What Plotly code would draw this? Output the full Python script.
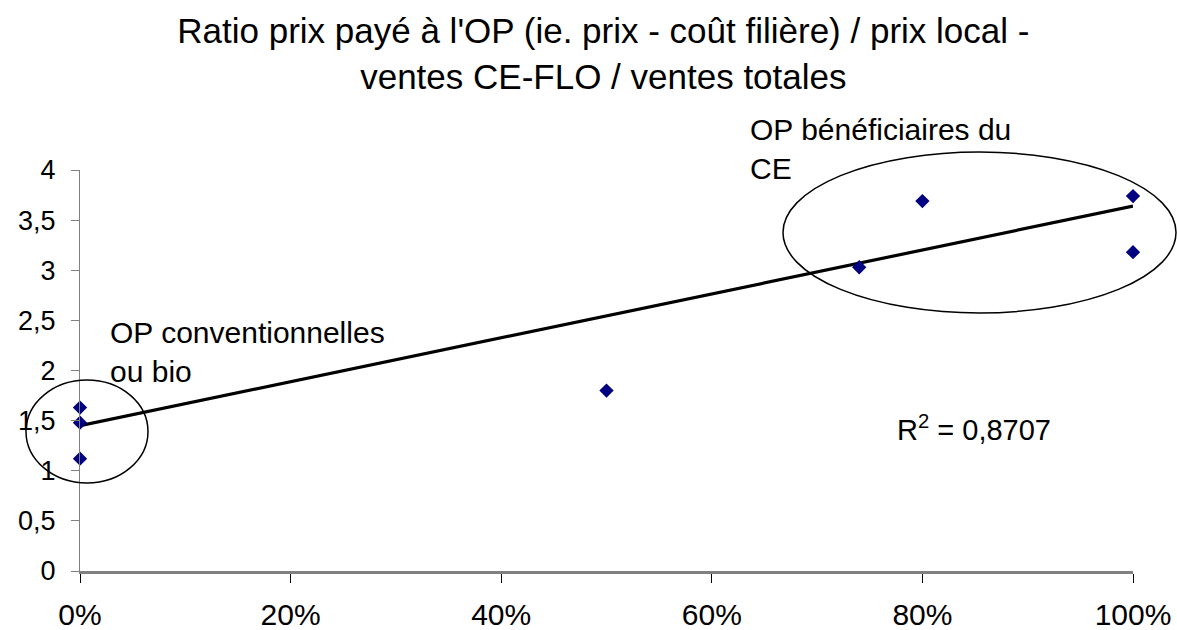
import plotly.graph_objects as go

# Data
share_ce = [0.0, 0.0, 0.0, 0.50, 0.74, 0.80, 1.0, 1.0]
price_ratio = [1.63, 1.48, 1.12, 1.80, 3.03, 3.69, 3.74, 3.18]
trend_x = [0.0, 1.0]
trend_y = [1.45, 3.64]

x_ticks = [0, 0.2, 0.4, 0.6, 0.8, 1.0]
y_ticks = [0, 0.5, 1, 1.5, 2, 2.5, 3, 3.5, 4]

FONT = "Liberation Sans, Arial, sans-serif"
W, H = 1177, 630
L, R, T, B = 80, 44, 170, 59
PW, PH = W - L - R, H - T - B


def px_x(px):
    return (px - L) / PW


def px_y(py):
    return (H - B - py) / PH


fig = go.Figure()
fig.add_trace(go.Scatter(
    x=trend_x, y=trend_y, mode="lines",
    line=dict(color="black", width=3.2), showlegend=False, hoverinfo="skip",
    cliponaxis=False,
))
fig.add_trace(go.Scatter(
    x=share_ce, y=price_ratio, mode="markers",
    marker=dict(symbol="diamond", size=11, color="#000080"),
    showlegend=False, cliponaxis=False,
))

# Ellipses
fig.add_shape(type="circle", xref="paper", yref="paper",
              x0=px_x(26), x1=px_x(148), y0=px_y(483), y1=px_y(380),
              line=dict(color="black", width=1.5))
fig.add_shape(type="circle", xref="paper", yref="paper",
              x0=px_x(783), x1=px_x(1176), y0=px_y(313), y1=px_y(152),
              line=dict(color="black", width=1.5))

fig.add_annotation(xref="paper", yref="paper", x=px_x(108), y=px_y(352),
                   text="OP conventionnelles<br>ou bio", showarrow=False,
                   xanchor="left", yanchor="middle", align="left",
                   font=dict(family=FONT, size=30, color="black"))
fig.add_annotation(xref="paper", yref="paper", x=px_x(748), y=px_y(149),
                   text="OP bénéficiaires du<br>CE", showarrow=False,
                   xanchor="left", yanchor="middle", align="left",
                   font=dict(family=FONT, size=30, color="black"))
fig.add_annotation(xref="paper", yref="paper", x=px_x(895), y=px_y(428),
                   text="R<sup>2</sup> = 0,8707", showarrow=False,
                   xanchor="left", yanchor="middle", align="left",
                   font=dict(family=FONT, size=29, color="black"))

fig.update_layout(
    width=W, height=H,
    margin=dict(l=L, r=R, t=T, b=B, autoexpand=False),
    paper_bgcolor="white", plot_bgcolor="white",
    separators=", ",
    font=dict(family=FONT, size=27, color="black"),
    title=dict(
        text="Ratio prix payé à l'OP (ie. prix - coût filière) / prix local -<br>ventes CE-FLO / ventes totales",
        x=0.497, xanchor="center", xref="paper",
        y=1 - 43 / H, yanchor="middle", yref="container",
        font=dict(family=FONT, size=35, color="black"),
    ),
    xaxis=dict(
        range=[0, 1], tickvals=x_ticks, tickformat=".0%", automargin=False,
        showgrid=False, zeroline=False, showline=True, linecolor="#808080", linewidth=2.5,
        ticks="outside", ticklen=9, tickcolor="black", tickwidth=1,
        tickfont=dict(family=FONT, size=30), ticklabelstandoff=6,
    ),
    yaxis=dict(
        range=[0, 4], tickvals=y_ticks, automargin=False,
        showgrid=False, zeroline=False, showline=True, linecolor="#808080", linewidth=1,
        ticks="outside", ticklen=8, tickcolor="#808080", tickwidth=1,
        tickfont=dict(family=FONT, size=27), ticklabelstandoff=10,
    ),
)

fig.write_html(
    "out.html",
    config={"displayModeBar": False},
    post_script="document.body.style.margin='0';document.body.style.overflow='hidden';",
)
